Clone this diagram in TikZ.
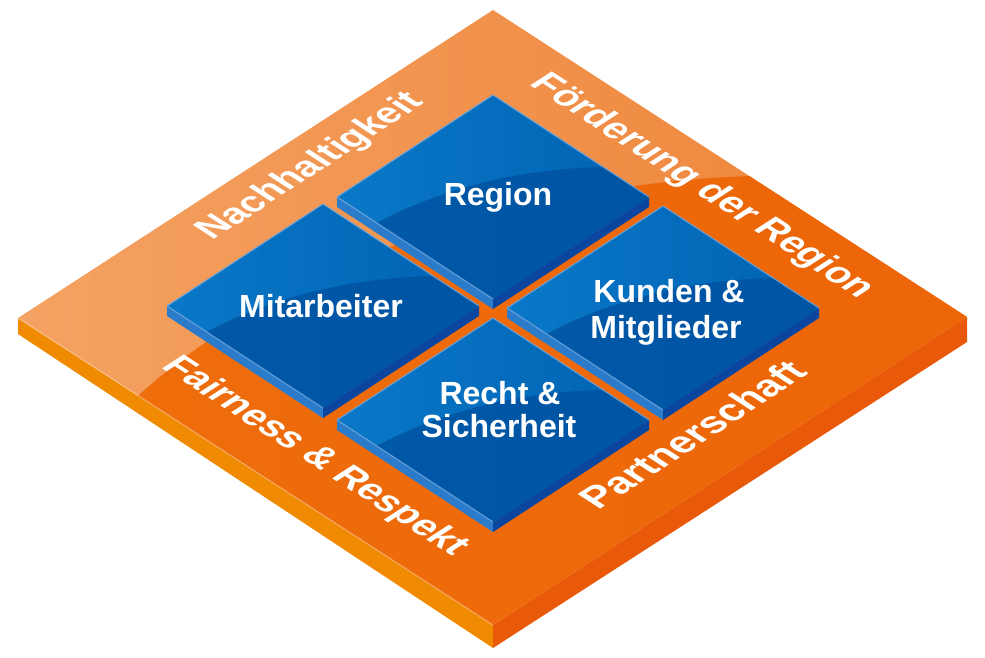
\documentclass[tikz,border=0pt]{standalone}
\usepackage{fontspec}
\setmainfont{Liberation Sans}
\definecolor{olA}{HTML}{F4A262}
\definecolor{olB}{HTML}{EE8236}
\definecolor{odA}{HTML}{EF6E0C}
\definecolor{odB}{HTML}{EB6006}
\definecolor{osL}{HTML}{F08A00}
\definecolor{osR}{HTML}{E8590A}
\definecolor{tlA}{HTML}{0A78C8}
\definecolor{tlB}{HTML}{0062B2}
\definecolor{tdA}{HTML}{005AAA}
\definecolor{tdB}{HTML}{00509E}
\definecolor{tsL}{HTML}{2A7CCB}
\definecolor{tsR}{HTML}{0A45A0}
\definecolor{tedge}{HTML}{6EA8E0}
\tikzset{
  tiletext/.style={text=white, font=\bfseries\fontsize{32}{36}\selectfont, inner sep=0pt, anchor=base},
  edgetext/.style={text=white, inner sep=0pt, transform shape, text height=0.72em, text depth=0pt},
  tileedge/.style={draw=tedge, line width=1.2pt, opacity=0.8, line join=round},
}
\newcommand\drawtile[2]{%
\begin{scope}[shift={(#1,#2)}]
  \fill[tsL] (-156,0) -- (0,102) -- (0,112) -- (-156,10) -- cycle;
  \fill[tsR] (0,102) -- (156,0) -- (156,10) -- (0,112) -- cycle;
  \begin{scope}
    \clip (-156,0) -- (0,-102) -- (156,0) -- (0,102) -- cycle;
    \shade[left color=tlA, right color=tlB] (-156,-102) rectangle (156,102);
    \shade[left color=tdA, right color=tdB] (120,260) ellipse [x radius=400, y radius=290];
  \end{scope}
  \draw[tileedge] (0,102) -- (-156,0) -- (0,-102) -- (156,0);
\end{scope}}
\begin{document}
\begin{tikzpicture}[x=1pt, y=-1pt]
\useasboundingbox (0,0) rectangle (985,657);
% platform sides
\fill[osL] (18,318) -- (493,625) -- (493,648) -- (18,334) -- cycle;
\fill[osR] (493,625) -- (967,317) -- (967,342) -- (493,648) -- cycle;
% platform top
\begin{scope}
  \clip (493,10) -- (967,317) -- (493,625) -- (18,318) -- cycle;
  \shade[left color=olA, right color=olB] (18,10) rectangle (967,625);
  \shade[left color=odA, right color=odB] (800,700) ellipse [x radius=812, y radius=525];
\end{scope}
\draw[white, opacity=0.3, line width=1.2pt] (18,318) -- (493,625);
% tiles
\drawtile{493}{197}
\drawtile{323}{306}
\drawtile{663}{308}
\drawtile{493}{420}
% tile texts
\node[tiletext] (reg) at (498,205) {Region};
\node[tiletext] (mit) at (321,317) {Mitarbeiter};
\node[tiletext] (kun1) at (669,302) {Kunden \&};
\node[tiletext] (kun2) at (666,338) {Mitglieder};
\node[tiletext] (rec1) at (500,404) {Recht \&};
\node[tiletext] (rec2) at (499,437) {Sicherheit};
% edge labels
\begin{scope}[shift={(316,170)}, cm={0.839,0.544,-0.839,0.544,(0,0)}]
  \node[edgetext, font=\bfseries\fontsize{37}{40}\selectfont] (nach) at (0,0) {Nachhaltigkeit};
\end{scope}
\begin{scope}[shift={(697,190)}, cm={0.839,-0.544,0.839,0.544,(0,0)}]
  \node[edgetext, font=\bfseries\fontsize{37.5}{40}\selectfont] (foerd) at (0,0) {Förderung der Region};
\end{scope}
\begin{scope}[shift={(310,460)}, cm={0.839,-0.544,0.839,0.544,(0,0)}]
  \node[edgetext, font=\bfseries\fontsize{37.5}{40}\selectfont] (fair) at (0,0) {Fairness \& Respekt};
\end{scope}
\begin{scope}[shift={(701,440)}, cm={0.839,0.544,-0.839,0.544,(0,0)}]
  \node[edgetext, font=\bfseries\fontsize{39}{40}\selectfont] (part) at (0,0) {Partnerschaft};
\end{scope}
\end{tikzpicture}
\end{document}
